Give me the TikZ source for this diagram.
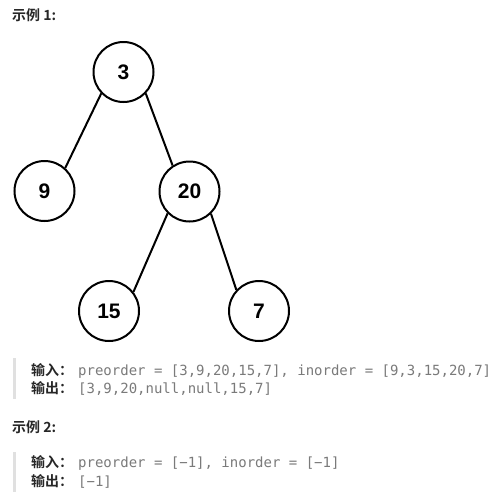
\documentclass[tikz,border=0pt]{standalone}
\usepackage{fontspec}
\setmainfont{Liberation Sans}
\newfontfamily\cjkb[BoldFont={Noto Sans CJK SC Bold}]{Noto Sans CJK SC}
\newfontfamily\monof{DejaVu Sans Mono}
\definecolor{txt}{HTML}{262626}
\definecolor{code}{HTML}{7A7A7A}
\definecolor{bar}{HTML}{E0E0E0}
\begin{document}
\begin{tikzpicture}[x=1pt,y=-1pt,
  tn/.style={circle,draw=black,line width=2pt,minimum size=60pt,inner sep=0pt,font=\fontsize{21}{21}\selectfont\bfseries},
  edge/.style={line width=2pt},
  head/.style={anchor=base west,inner sep=0pt,text=txt,font=\cjkb\bfseries\fontsize{14}{14}\selectfont},
  lbl/.style={anchor=base west,inner sep=0pt,text=txt,font=\cjkb\bfseries\fontsize{14}{14}\selectfont},
  cod/.style={anchor=base west,inner sep=0pt,text=code,font=\monof\fontsize{14}{14}\selectfont},
  barst/.style={fill=bar,draw=none}]
\useasboundingbox (0,0) rectangle (502,498);
\fill[white] (0,0) rectangle (502,498);
\node[head] (h1) at (12,20) {示例 1:};
\node[tn] (n3) at (123.5,72) {3};
\node[tn] (n9) at (44.5,191) {9};
\node[tn] (n20) at (189.5,191.5) {20};
\node[tn] (n15) at (109,311) {15};
\node[tn] (n7) at (259,311) {7};
\draw[edge] (n3.224) -- (n9.48);
\draw[edge] (n3.316) -- (n20.123);
\draw[edge] (n20.225) -- (n15.38);
\draw[edge] (n20.314) -- (n7.137);
\fill[barst] (13,358) rectangle (16,399);
\node[lbl] (i1) at (31,375) {输入：};
\node[cod] (c1) at (78,375) {preorder = [3,9,20,15,7], inorder = [9,3,15,20,7]};
\node[lbl] (o1) at (31,393) {输出：};
\node[cod] (d1) at (78,393) {[3,9,20,null,null,15,7]};
\node[head] (h2) at (12,432) {示例 2:};
\fill[barst] (13,452) rectangle (16,492);
\node[lbl] (i2) at (31,467) {输入：};
\node[cod] (c2) at (78,467) {preorder = [−1], inorder = [−1]};
\node[lbl] (o2) at (31,486) {输出：};
\node[cod] (d2) at (78,486) {[−1]};
\end{tikzpicture}
\end{document}
